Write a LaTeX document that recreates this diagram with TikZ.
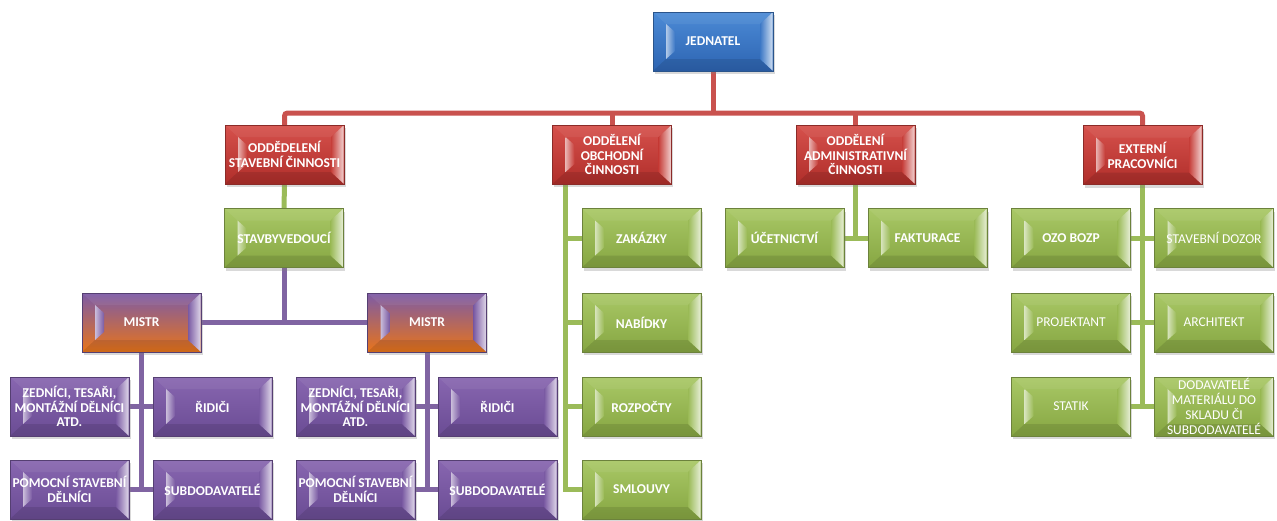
\documentclass[tikz,border=0pt]{standalone}
\usepackage{fontspec}
\setmainfont{Carlito}
\usetikzlibrary{shadows,backgrounds,calc}
\definecolor{rtop}{HTML}{D6514C}
\definecolor{rbot}{HTML}{B02E2A}
\definecolor{rbase}{HTML}{C63E39}
\definecolor{gtop}{HTML}{A9C866}
\definecolor{gbot}{HTML}{86A642}
\definecolor{gbase}{HTML}{9ABA56}
\definecolor{ptop}{HTML}{8866B0}
\definecolor{pbot}{HTML}{6A4C94}
\definecolor{pbase}{HTML}{7A5AA3}
\definecolor{btop}{HTML}{4C8BD6}
\definecolor{bbot}{HTML}{2D64B2}
\definecolor{bbase}{HTML}{3C78C6}
\definecolor{otop}{HTML}{7C5BA7}
\definecolor{omid}{HTML}{A8627A}
\definecolor{obot}{HTML}{E8741A}
\definecolor{redline}{HTML}{C9524E}
\definecolor{greenline}{HTML}{9BBB59}
\definecolor{purpleline}{HTML}{8064A2}
\tikzset{
  bev/.style={rectangle, minimum width=119pt, minimum height=59pt, inner sep=1pt,
    align=center, text=white, font=\fontsize{13.5}{14.8}\selectfont\bfseries,
    draw=bevc!70!black, line width=0.5pt,
    drop shadow={shadow xshift=1.5pt, shadow yshift=-3pt, opacity=.3},
    path picture={
      \coordinate (ne) at (path picture bounding box.north east);
      \coordinate (se) at (path picture bounding box.south east);
      \coordinate (nw) at (path picture bounding box.north west);
      \coordinate (sw) at (path picture bounding box.south west);
      \fill[black,opacity=.10] (sw) -- (se) -- ([shift={(-13pt,12pt)}]se) -- ([shift={(13pt,12pt)}]sw) -- cycle;
      \fill[white,opacity=.06] (nw) -- (ne) -- ([shift={(-13pt,-12pt)}]ne) -- ([shift={(13pt,-12pt)}]nw) -- cycle;
      \shade[left color=bevc, right color=bevc!25!white]
        ([shift={(-13pt,-12pt)}]ne) -- ([shift={(-0.5pt,-0.5pt)}]ne) -- ([shift={(-0.5pt,0.5pt)}]se) -- ([shift={(-13pt,12pt)}]se) -- cycle;
      \shade[left color=bevc!40!white, right color=bevc]
        ([shift={(13pt,-12pt)}]nw) -- ([shift={(22pt,-20pt)}]nw) -- ([shift={(22pt,20pt)}]sw) -- ([shift={(13pt,12pt)}]sw) -- cycle;
    }},
  redbox/.style={/utils/exec={\colorlet{bevc}{rbase}}, bev, top color=rtop, bottom color=rbot},
  greenbox/.style={/utils/exec={\colorlet{bevc}{gbase}}, bev, top color=gtop, bottom color=gbot},
  purplebox/.style={/utils/exec={\colorlet{bevc}{pbase}}, bev, top color=ptop, bottom color=pbot},
  bluebox/.style={/utils/exec={\colorlet{bevc}{bbase}}, bev, top color=btop, bottom color=bbot},
  mistrbox/.style={/utils/exec={\colorlet{bevc}{pbase}}, bev, top color=otop, middle color=omid, bottom color=obot},
  reg/.style={font=\fontsize{13.5}{14.8}\selectfont},
  rl/.style={line width=5pt, draw=redline},
  gl/.style={line width=5pt, draw=greenline},
  pl/.style={line width=5pt, draw=purpleline},
}
\begin{document}
\begin{tikzpicture}[x=1pt,y=-1pt]
\useasboundingbox (0,0) rectangle (1277,520);
% top
\node[bluebox, minimum width=120pt] (jed) at (713,41.5) {JEDNATEL};
% departments
\node[redbox] (stav) at (284.5,154.5) {ODDĚDELENÍ\\STAVEBNÍ ČINNOSTI};
\node[redbox] (obch) at (612,154.5) {ODDĚLENÍ\\OBCHODNÍ\\ČINNOSTI};
\node[redbox] (adm) at (855.5,154.5) {ODDĚLENÍ\\ADMINISTRATIVNÍ\\ČINNOSTI};
\node[redbox] (ext) at (1142.5,155) {EXTERNÍ\\PRACOVNÍCI};
% construction
\node[greenbox] (stby) at (284,238) {STAVBYVEDOUCÍ};
\node[mistrbox] (m1) at (141.5,322.5) {MISTR};
\node[mistrbox] (m2) at (427,322.5) {MISTR};
\node[purplebox] (zed1) at (69.5,406.5) {ZEDNÍCI, TESAŘI,\\MONTÁŽNÍ DĚLNÍCI\\ATD.};
\node[purplebox] (rid1) at (212.5,406.5) {ŘIDIČI};
\node[purplebox] (pom1) at (69.5,489.5) {POMOCNÍ STAVEBNÍ\\DĚLNÍCI};
\node[purplebox] (sub1) at (212.5,489.5) {SUBDODAVATELÉ};
\node[purplebox] (zed2) at (355.5,406.5) {ZEDNÍCI, TESAŘI,\\MONTÁŽNÍ DĚLNÍCI\\ATD.};
\node[purplebox] (rid2) at (497.5,406.5) {ŘIDIČI};
\node[purplebox] (pom2) at (355.5,489.5) {POMOCNÍ STAVEBNÍ\\DĚLNÍCI};
\node[purplebox] (sub2) at (497.5,489.5) {SUBDODAVATELÉ};
% commercial
\node[greenbox] (zak) at (641.5,238) {ZAKÁZKY};
\node[greenbox] (nab) at (641.5,322.5) {NABÍDKY};
\node[greenbox] (roz) at (641.5,406.5) {ROZPOČTY};
\node[greenbox] (sml) at (641.5,489.5) {SMLOUVY};
% administrative
\node[greenbox] (uc) at (784.5,238) {ÚČETNICTVÍ};
\node[greenbox] (fak) at (927.5,238) {FAKTURACE};
% external
\node[greenbox] (ozo) at (1071,238) {OZO BOZP};
\node[greenbox, reg] (doz) at (1214,238) {STAVEBNÍ DOZOR};
\node[greenbox, reg] (proj) at (1071,322.5) {PROJEKTANT};
\node[greenbox, reg] (arch) at (1214,322.5) {ARCHITEKT};
\node[greenbox, reg] (stat) at (1071,406.5) {STATIK};
\node[greenbox, reg] (dod) at (1214,406.5) {DODAVATELÉ\\MATERIÁLU DO\\SKLADU ČI\\SUBDODAVATELÉ};
% connectors
\begin{scope}[on background layer]
\coordinate (bus) at (713,113);
\draw[rl] (jed.south) -- (jed.south |- bus);
\draw[rl, rounded corners=3pt] (stav.north) -- (stav.north |- bus) -- (ext.north |- bus) -- (ext.north);
\draw[rl] (obch.north |- bus) -- (obch.north);
\draw[rl] (adm.north |- bus) -- (adm.north);
\draw[gl] (stav.south) -- (stby.north);
\draw[pl] (stby.south) -- (stby.south |- m1);
\draw[pl] (m1.east) -- (m2.west);
\draw[pl] (m1.south) -- (m1.south |- pom1);
\draw[pl] (zed1.east) -- (rid1.west);
\draw[pl] (pom1.east) -- (sub1.west);
\draw[pl] (m2.south) -- (m2.south |- pom2);
\draw[pl] (zed2.east) -- (rid2.west);
\draw[pl] (pom2.east) -- (sub2.west);
\coordinate (oc) at ([xshift=13pt]obch.south west);
\draw[gl] (oc) |- (sml.west);
\draw[gl] (oc |- zak) -- (zak.west);
\draw[gl] (oc |- nab) -- (nab.west);
\draw[gl] (oc |- roz) -- (roz.west);
\draw[gl] (adm.south) -- (adm.south |- uc);
\draw[gl] (uc.east) -- (fak.west);
\draw[gl] (ext.south) -- (ext.south |- stat);
\draw[gl] (ozo.east) -- (doz.west);
\draw[gl] (proj.east) -- (arch.west);
\draw[gl] (stat.east) -- (dod.west);
\end{scope}
\end{tikzpicture}
\end{document}
